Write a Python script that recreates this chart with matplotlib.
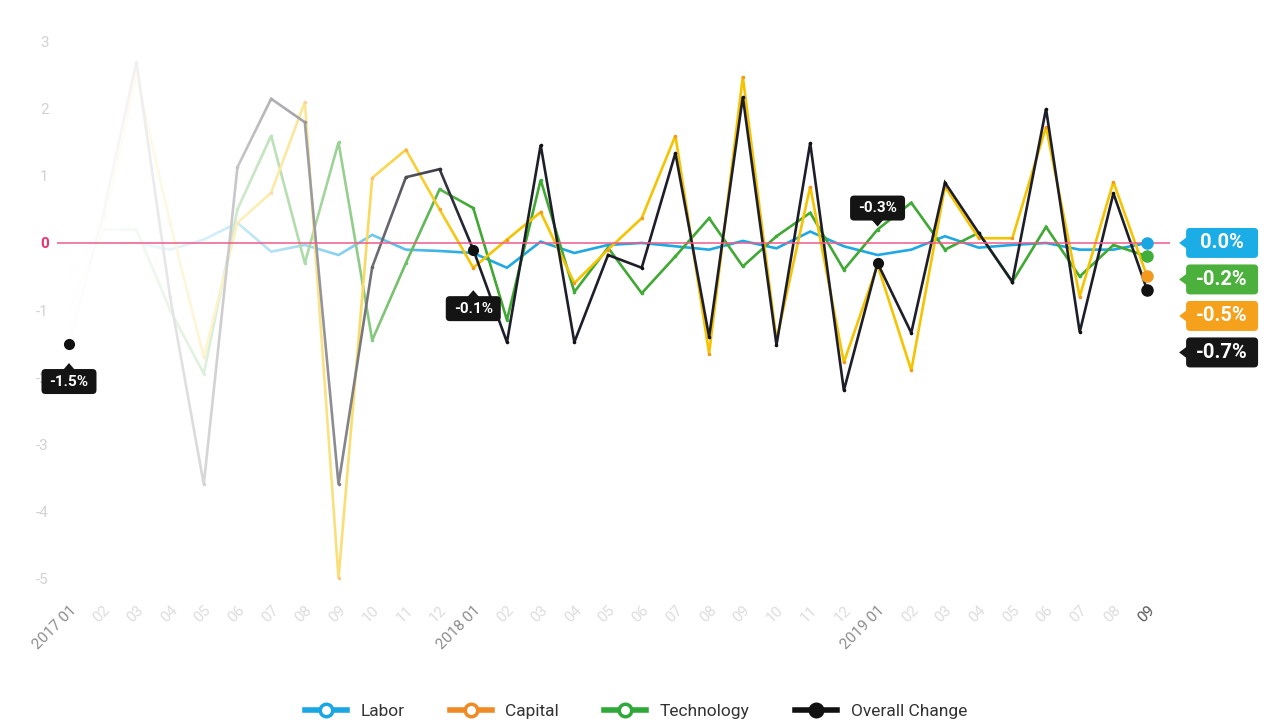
import numpy as np
import matplotlib
matplotlib.use("Agg")
import matplotlib.pyplot as plt
from matplotlib.patches import FancyBboxPatch, Polygon
from matplotlib.lines import Line2D
from matplotlib.transforms import IdentityTransform

plt.rcParams['font.family'] = ['Roboto', 'DejaVu Sans']

# ---- data -------------------------------------------------------------
month_labels = (["2017 01"] + [f"{m:02d}" for m in range(2, 13)] +
                ["2018 01"] + [f"{m:02d}" for m in range(2, 13)] +
                ["2019 01"] + [f"{m:02d}" for m in range(2, 10)])

labor = [0.0, 0.0, 0.0, -0.1, 0.05, 0.3, -0.13, -0.03, -0.18, 0.12, -0.1,
         -0.12, -0.15, -0.37, 0.02, -0.15, -0.03, 0.0, -0.05, -0.1, 0.03,
         -0.08, 0.17, -0.05, -0.18, -0.1, 0.1, -0.07, -0.03, 0.0, -0.1,
         -0.1, 0.0]
capital = [-1.0, 0.2, 2.5, 0.3, -1.7, 0.3, 0.75, 2.1, -5.0, 0.97, 1.39,
           0.5, -0.37, 0.05, 0.46, -0.6, -0.1, 0.37, 1.6, -1.65, 2.48,
           -1.45, 0.84, -1.78, -0.33, -1.9, 0.84, 0.07, 0.07, 1.73, -0.8,
           0.91, -0.5]
technology = [-0.5, 0.2, 0.2, -1.0, -1.95, 0.5, 1.6, -0.3, 1.5, -1.45,
              -0.3, 0.8, 0.52, -1.15, 0.94, -0.73, -0.07, -0.75, -0.2, 0.37,
              -0.35, 0.1, 0.45, -0.4, 0.2, 0.6, -0.1, 0.15, -0.58, 0.24,
              -0.5, -0.03, -0.2]
overall = [-1.5, 0.4, 2.7, -0.8, -3.6, 1.13, 2.15, 1.8, -3.6, -0.36, 0.98,
           1.1, -0.1, -1.48, 1.46, -1.48, -0.18, -0.37, 1.34, -1.4, 2.18,
           -1.52, 1.49, -2.2, -0.3, -1.34, 0.9, 0.15, -0.58, 2.0, -1.33,
           0.74, -0.7]

series_names = ["Labor", "Capital", "Technology", "Overall Change"]
callout_idx = [0, 12, 24]          # months whose overall change is tagged

# ---- styling ----------------------------------------------------------
line_col = {"Labor": "#1fa8e3", "Capital": "#f5c400",
            "Technology": "#41a833", "Overall Change": "#1e1e2a"}
dot_col = {"Labor": "#1aa6e2", "Capital": "#f39a1e",
           "Technology": "#3fae3a", "Overall Change": "#111111"}
tag_col = {"Labor": "#1aade6", "Capital": "#f5a11c",
           "Technology": "#4bb03c", "Overall Change": "#161616"}
legend_col = {"Labor": "#1aa6e2", "Capital": "#f08a24",
              "Technology": "#2fa83a", "Overall Change": "#111111"}

W, H = 1272, 724
fig = plt.figure(figsize=(W / 100, H / 100), dpi=100)
ax = fig.add_axes([57 / W, 1 - 595 / H, (1170 - 57) / W, (595 - 25) / H])

x = np.arange(len(month_labels))
data = {"Labor": labor, "Capital": capital,
        "Technology": technology, "Overall Change": overall}

XL = (-0.356, 32.68)
YL = (-5.25, 3.25)

for name in ["Labor", "Technology", "Capital", "Overall Change"]:
    ms = 0 if name == "Labor" else 2.6
    ax.plot(x, data[name], color=line_col[name], lw=1.9, zorder=2,
            solid_joinstyle='miter', marker='o', ms=ms,
            mfc=dot_col[name], mec='none')

# white fade over the early months
gx = np.linspace(XL[0], XL[1], 800)
vis = np.clip(gx / 12.0, 0, 1) ** 1.6
rgba = np.ones((2, gx.size, 4))
rgba[..., 3] = 1 - vis
ax.imshow(rgba, extent=(XL[0], XL[1], YL[0], YL[1]), aspect='auto',
          zorder=2.5, interpolation='bilinear')

ax.axhline(0, color='#ee5c8a', lw=1.1, zorder=2.6)
ax.axvline(0, color='#efefef', lw=1.2, zorder=0.5)

ax.set_xlim(*XL)
ax.set_ylim(*YL)
for s in ax.spines.values():
    s.set_visible(False)

# y ticks
yt = np.arange(-5, 4)
ax.set_yticks(yt)
ax.set_yticklabels([f"{v:d}" for v in yt], fontsize=11)
for lab, v in zip(ax.get_yticklabels(), yt):
    if v == 0:
        lab.set_color('#e8336d')
        lab.set_fontweight('bold')
    else:
        lab.set_color('#d2d2d2')
ax.tick_params(axis='y', length=0, pad=6)

# x ticks
ax.set_xticks(x)
ax.set_xticklabels(month_labels, rotation=45, ha='right',
                   rotation_mode='anchor', fontsize=11)
for k, lab in enumerate(ax.get_xticklabels()):
    if " " in month_labels[k]:
        lab.set_color('#8c8c8c')
    elif k == len(month_labels) - 1:
        lab.set_color('#555555')
    else:
        lab.set_color('#dddddd')
ax.tick_params(axis='x', length=0, pad=6)

fig.canvas.draw()
ident = IdentityTransform()


def to_px(i, v):
    return ax.transData.transform((i, v))


def tag(cx, cy, w, h, text, color, fs, pointer):
    box = FancyBboxPatch((cx - w / 2, cy - h / 2), w, h,
                         boxstyle="round,pad=0,rounding_size=4",
                         fc=color, ec='none', transform=ident, zorder=10)
    fig.add_artist(box)
    p = 6
    if pointer == 'left':
        tri = [(cx - w / 2 + 1, cy + p), (cx - w / 2 + 1, cy - p),
               (cx - w / 2 - p - 1, cy)]
    elif pointer == 'up':
        tri = [(cx - p, cy + h / 2 - 1), (cx + p, cy + h / 2 - 1),
               (cx, cy + h / 2 + p)]
    else:
        tri = [(cx - p, cy - h / 2 + 1), (cx + p, cy - h / 2 + 1),
               (cx, cy - h / 2 - p)]
    fig.add_artist(Polygon(tri, closed=True, fc=color, ec='none',
                           transform=ident, zorder=10))
    fig.text(cx, cy, text, transform=ident, ha='center', va='center',
             color='white', fontsize=fs, fontweight='bold', zorder=11)


def pct(v):
    v = round(v, 1)
    return f"{(0.0 if v == 0 else v):.1f}%"


# overall-change callouts
offsets = {0: -38, 12: -59, 24: 55}
for i in callout_idx:
    px, py = to_px(i, overall[i])
    ax.plot(i, overall[i], 'o', color='#111111', ms=7, zorder=6)
    off = offsets[i]
    tag(px, py + off, 55, 25, pct(overall[i]), '#141414', 11,
        'up' if off < 0 else 'down')

# end-of-series tags, stacked downward
last = len(x) - 1
order = sorted(series_names, key=lambda n: -data[n][last])
prev = None
for name in order:
    v = data[name][last]
    ax.plot(last, v, 'o', color=dot_col[name], ms=8, zorder=6,
            clip_on=False)
    px, py = to_px(last, v)
    ty = py if prev is None else min(py, prev - 36.5)
    prev = ty
    tag(px + 75, ty, 72, 30, pct(v), tag_col[name], 14.5, 'left')

# legend
handles = []
for name in series_names:
    fill = '#111111' if name == "Overall Change" else 'white'
    handles.append(Line2D([0], [0], color=legend_col[name], lw=4,
                          marker='o', ms=9, mfc=fill,
                          mec=legend_col[name], mew=2.5))
fig.legend(handles, series_names, loc='center', ncol=4, frameon=False,
           bbox_to_anchor=(0.5, 1 - 711 / H), fontsize=12.5,
           handlelength=2.4, columnspacing=2.6, handletextpad=0.8,
           labelcolor='#333333')

fig.savefig("out.png", dpi=100, facecolor='white')
